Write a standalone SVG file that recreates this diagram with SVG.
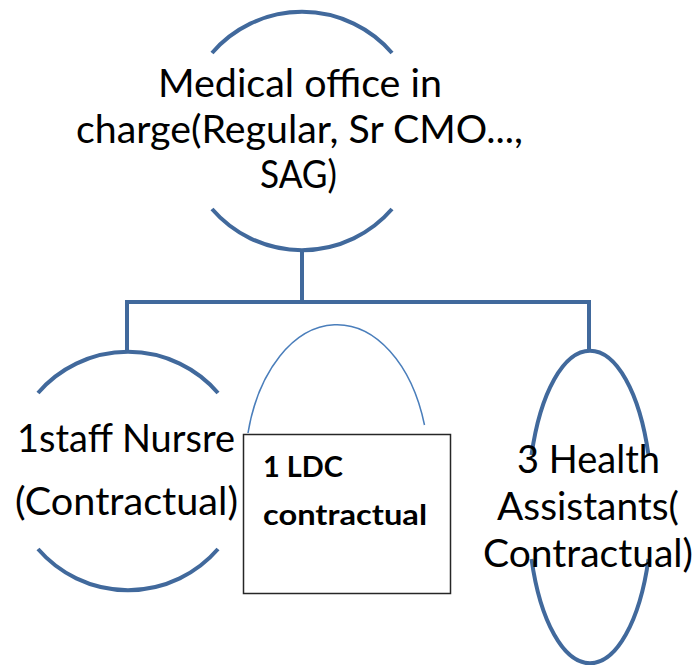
<svg xmlns="http://www.w3.org/2000/svg" width="699" height="665" viewBox="0 0 699 665">
<style>
.bg{fill:#ffffff}
.shape{fill:none;stroke:#41699c;stroke-width:4}
.thin{fill:none;stroke:#4a7ebb;stroke-width:1.5}
.conn{fill:none;stroke:#41699c;stroke-width:4;stroke-linejoin:miter}
.box{fill:#ffffff;stroke:#262626;stroke-width:1.5}
.t{font-family:Lato,"Liberation Sans",sans-serif;font-size:38px;fill:#000000}
.b{font-family:Lato,"Liberation Sans",sans-serif;font-size:29px;font-weight:bold;fill:#000000}
</style>
<rect class="bg" x="0" y="0" width="699" height="665"/>
<g id="connectors">
<path class="conn" d="M302 250 V302"/>
<path class="conn" d="M127 351 V302 H589 V351"/>
</g>
<g id="node-medical-officer">
<path class="shape" d="M212 53 A119 119 0 0 1 392 53"/>
<path class="shape" d="M212 209 A119 119 0 0 0 392 209"/>
<text class="t" x="158" y="97" textLength="284" lengthAdjust="spacingAndGlyphs">Medical office in</text>
<text class="t" x="76" y="143" textLength="447" lengthAdjust="spacingAndGlyphs">charge(Regular, Sr CMO...,</text>
<text class="t" x="260" y="188" textLength="77" lengthAdjust="spacingAndGlyphs">SAG)</text>
</g>
<g id="node-staff-nurse">
<path class="shape" d="M38 393 A119 119 0 0 1 218 393"/>
<path class="shape" d="M38 549 A119 119 0 0 0 218 549"/>
<text class="t" x="17" y="452" textLength="218" lengthAdjust="spacingAndGlyphs">1staff Nursre</text>
<text class="t" x="15" y="515" textLength="223" lengthAdjust="spacingAndGlyphs">(Contractual)</text>
</g>
<g id="node-ldc">
<path class="thin" d="M248 433 A92 145 0 0 1 424.5 425"/>
<rect class="box" x="243.5" y="434.5" width="207" height="159"/>
<text class="b" x="263" y="477" textLength="80" lengthAdjust="spacingAndGlyphs">1 LDC</text>
<text class="b" x="263" y="525" textLength="164" lengthAdjust="spacingAndGlyphs">contractual</text>
</g>
<g id="node-health-assistants">
<path class="shape" d="M531.5 455 A62 156 0 0 1 648.5 455"/>
<path class="shape" d="M531.5 559 A62 156 0 0 0 648.5 559"/>
<text class="t" x="517" y="473" textLength="143" lengthAdjust="spacingAndGlyphs">3 Health</text>
<text class="t" x="497" y="520" textLength="182" lengthAdjust="spacingAndGlyphs">Assistants(</text>
<text class="t" x="483" y="567" textLength="210" lengthAdjust="spacingAndGlyphs">Contractual)</text>
</g>
</svg>
